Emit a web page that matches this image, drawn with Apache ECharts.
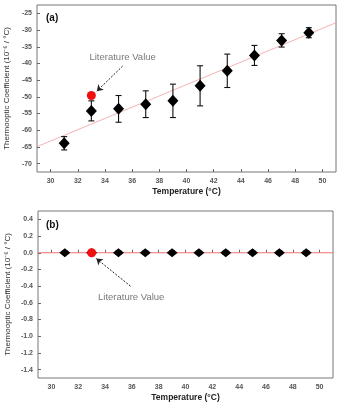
<!DOCTYPE html>
<html lang="en">
<head>
<meta charset="UTF-8">
<title>Thermooptic coefficient</title>
<style>
  html, body { margin: 0; padding: 0; background: #fff; }
  #main { width: 340px; height: 403px; }
</style>
</head>
<body>
<div id="main"></div>
<script src="https://cdn.jsdelivr.net/npm/echarts@6/dist/echarts.min.js"></script>
<script>
// measured points (temperature, coefficient, error)
var temps = [31, 33, 35, 37, 39, 41, 43, 45, 47, 49];
var coefA = [-63.9, -54.2, -53.6, -52.2, -51.2, -46.7, -42.2, -37.6, -33.1, -30.8];
var errA = [2.0, 3.0, 4.0, 4.0, 5.0, 6.0, 5.0, 3.0, 2.0, 1.5];
var coefB = [0, 0, 0, 0, 0, 0, 0, 0, 0, 0];
var errB = [0.02, 0.02, 0.02, 0.02, 0.02, 0.02, 0.02, 0.02, 0.02, 0.02];

// literature value
var litA = [33, -49.6];
var litB = [33, 0];

// linear fit lines
var fitX = [29, 51];
var fitA = [-64.9, -27.8];
var fitB = [0, 0];

// annotation arrows [from, to]
var arrowA = [[35.3, -40.8], [33.4, -48.3]];
var arrowB = [[35.9, -0.40], [33.35, -0.07]];
var noteA = [35.3, -38.1];
var noteB = [35.95, -0.54];

var xTicks = [30, 32, 34, 36, 38, 40, 42, 44, 46, 48, 50];
var yTicksA = [-70, -65, -60, -55, -50, -45, -40, -35, -30, -25];
var yTicksB = [-1.4, -1.2, -1.0, -0.8, -0.6, -0.4, -0.2, 0.0, 0.2, 0.4];

function pts(xs, ys) {
  return xs.map(function (x, i) { return [x, ys[i]]; });
}
function errPts(xs, ys, es) {
  return xs.map(function (x, i) { return [x, ys[i], es[i]]; });
}

function errorBars(xi, yi, data) {
  return {
    type: 'custom', xAxisIndex: xi, yAxisIndex: yi, z: 3,
    data: data,
    renderItem: function (params, api) {
      var x = api.value(0), y = api.value(1), e = api.value(2);
      var hi = api.coord([x, y + e]);
      var lo = api.coord([x, y - e]);
      var w = 3;
      var st = { stroke: '#111', lineWidth: 1.1 };
      return {
        type: 'group',
        children: [
          { type: 'line', shape: { x1: hi[0], y1: hi[1], x2: lo[0], y2: lo[1] }, style: st },
          { type: 'line', shape: { x1: hi[0] - w, y1: hi[1], x2: hi[0] + w, y2: hi[1] }, style: st },
          { type: 'line', shape: { x1: lo[0] - w, y1: lo[1], x2: lo[0] + w, y2: lo[1] }, style: st }
        ]
      };
    }
  };
}

var font = 'Liberation Sans, Arial, sans-serif';

function xAxisCfg(gi) {
  return {
    gridIndex: gi, type: 'value', min: 29, max: 51,
    name: 'Temperature (°C)', nameLocation: 'middle', nameGap: 15,
    nameTextStyle: { fontFamily: font, fontSize: 8.5, fontWeight: 'bold', color: '#222' },
    axisLine: { show: false },
    splitLine: { show: false },
    axisTick: { inside: true, length: 3, customValues: xTicks, lineStyle: { color: '#666' } },
    axisLabel: { customValues: xTicks, fontFamily: font, fontSize: 7, fontWeight: 'bold', color: '#555', margin: 6 }
  };
}
function yAxisCfg(gi, mn, mx, ticks, fmt) {
  return {
    gridIndex: gi, type: 'value', min: mn, max: mx,
    name: 'Thermooptic Coefficient (10⁻⁶ / °C)', nameLocation: 'middle', nameGap: 26,
    nameMoveOverlap: false,
    nameTextStyle: { fontFamily: font, fontSize: 8, color: '#333' },
    axisLine: { show: false },
    splitLine: { show: false },
    axisTick: { inside: true, length: 3, customValues: ticks, lineStyle: { color: '#666' } },
    axisLabel: { customValues: ticks, fontFamily: font, fontSize: 7, fontWeight: 'bold', color: '#555', margin: 5, formatter: fmt }
  };
}

var chart = echarts.init(document.getElementById('main'));
chart.setOption({
  animation: false,
  backgroundColor: '#fff',
  grid: [
    { left: 37, top: 5, width: 299, height: 167, show: true, borderColor: '#777', borderWidth: 1, outerBoundsMode: 'none' },
    { left: 38, top: 211, width: 295, height: 167, show: true, borderColor: '#777', borderWidth: 1, outerBoundsMode: 'none' }
  ],
  xAxis: [xAxisCfg(0), xAxisCfg(1)],
  yAxis: [
    yAxisCfg(0, -72.5, -22.5, yTicksA, function (v) { return String(v); }),
    yAxisCfg(1, -1.5, 0.5, yTicksB, function (v) { return v.toFixed(1); })
  ],
  graphic: [
    { type: 'text', left: 46, top: 13, style: { text: '(a)', fontFamily: font, fontSize: 10, fontWeight: 'bold', fill: '#111' } },
    { type: 'text', left: 46, top: 220, style: { text: '(b)', fontFamily: font, fontSize: 10, fontWeight: 'bold', fill: '#111' } }
  ],
  series: [
    { type: 'line', xAxisIndex: 0, yAxisIndex: 0, data: pts(fitX, fitA), symbol: 'none',
      lineStyle: { color: '#f0a0a0', width: 0.8 }, z: 1 },
    { type: 'line', xAxisIndex: 1, yAxisIndex: 1, data: pts(fitX, fitB), symbol: 'none',
      lineStyle: { color: '#f07070', width: 1 }, z: 1 },
    errorBars(0, 0, errPts(temps, coefA, errA)),
    errorBars(1, 1, errPts(temps, coefB, errB)),
    { type: 'scatter', xAxisIndex: 0, yAxisIndex: 0, data: pts(temps, coefA), symbol: 'diamond',
      symbolSize: [11, 12], itemStyle: { color: '#000', opacity: 1 }, z: 4 },
    { type: 'scatter', xAxisIndex: 1, yAxisIndex: 1, data: pts(temps, coefB), symbol: 'diamond',
      symbolSize: [11, 9], itemStyle: { color: '#000', opacity: 1 }, z: 4 },
    { type: 'scatter', xAxisIndex: 0, yAxisIndex: 0, data: [litA], symbol: 'circle',
      symbolSize: 9, itemStyle: { color: '#f01010', opacity: 1 }, z: 5 },
    { type: 'scatter', xAxisIndex: 1, yAxisIndex: 1, data: [litB], symbol: 'circle',
      symbolSize: 9, itemStyle: { color: '#f01010', opacity: 1 }, z: 5 },
    { type: 'lines', coordinateSystem: 'cartesian2d', xAxisIndex: 0, yAxisIndex: 0,
      data: [{ coords: arrowA }], symbol: ['none', 'arrow'], symbolSize: 6,
      lineStyle: { color: '#222', width: 1, type: [2, 1.5], opacity: 1 }, z: 6 },
    { type: 'lines', coordinateSystem: 'cartesian2d', xAxisIndex: 1, yAxisIndex: 1,
      data: [{ coords: arrowB }], symbol: ['none', 'arrow'], symbolSize: 6,
      lineStyle: { color: '#222', width: 1, type: [2, 1.5], opacity: 1 }, z: 6 },
    { type: 'scatter', xAxisIndex: 0, yAxisIndex: 0, data: [noteA], symbolSize: 0, silent: true,
      label: { show: true, position: 'inside', formatter: 'Literature Value', fontFamily: font, fontSize: 9.5, color: '#555' } },
    { type: 'scatter', xAxisIndex: 1, yAxisIndex: 1, data: [noteB], symbolSize: 0, silent: true,
      label: { show: true, position: 'inside', formatter: 'Literature Value', fontFamily: font, fontSize: 9.5, color: '#555' } }
  ]
});
</script>
</body>
</html>
